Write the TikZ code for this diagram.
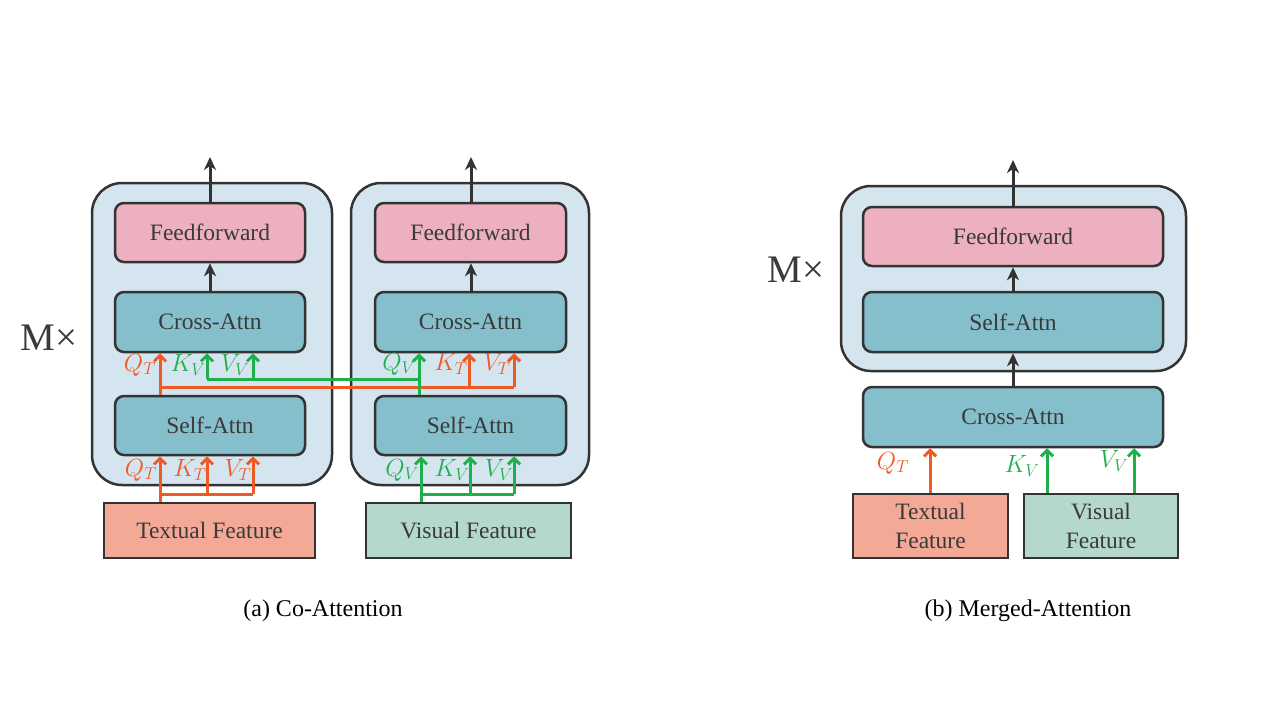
\documentclass[tikz,border=0pt]{standalone}
\usepackage{fontspec}
\setmainfont{Liberation Serif}
\usetikzlibrary{arrows.meta}
\definecolor{bdr}{HTML}{333333}
\definecolor{txt}{HTML}{3A3A3A}
\definecolor{outerc}{HTML}{D5E5EF}
\definecolor{ffc}{HTML}{ECB0C1}
\definecolor{attc}{HTML}{86BFCC}
\definecolor{tfc}{HTML}{F4A896}
\definecolor{vfc}{HTML}{B4D9CC}
\definecolor{orc}{HTML}{EE5A24}
\definecolor{grc}{HTML}{20B04B}
\tikzset{
  outerbox/.style={draw=bdr, fill=outerc, line width=2.5pt, rounded corners=30pt, inner sep=0pt},
  ffbox/.style={draw=bdr, fill=ffc, line width=2.5pt, rounded corners=9pt, text=txt, font=\fontsize{23.5}{28}\selectfont, inner sep=0pt},
  attbox/.style={ffbox, fill=attc},
  tfbox/.style={draw=bdr, fill=tfc, line width=2.5pt, text=txt, font=\fontsize{23.5}{29}\selectfont, align=center, inner sep=0pt},
  vfbox/.style={tfbox, fill=vfc},
  karr/.style={draw=bdr, line width=3pt, -{Stealth[length=13pt,width=12pt,inset=4pt]}},
  oarr/.style={draw=orc, line width=3pt, -{Straight Barb[length=6pt,width=12pt]}},
  garr/.style={draw=grc, line width=3pt, -{Straight Barb[length=6pt,width=12pt]}},
  oline/.style={draw=orc, line width=3pt},
  gline/.style={draw=grc, line width=3pt},
  olab/.style={text=orc, font=\fontsize{23.5}{27}\selectfont, inner sep=0pt},
  glab/.style={text=grc, font=\fontsize{23.5}{27}\selectfont, inner sep=0pt},
  mlab/.style={text=txt, font=\fontsize{39}{44}\selectfont, inner sep=0pt},
  caplab/.style={text=black, font=\fontsize{24}{28}\selectfont, inner sep=0pt}
}
\begin{document}
\begin{tikzpicture}[x=1pt, y=-1pt]
\useasboundingbox (0,0) rectangle (1280,720);
\fill[white] (0,0) rectangle (1280,720);

% ---------- (a) left column ----------
\node[outerbox, minimum width=240pt, minimum height=302pt] (oA1) at (212,334) {};
\node[ffbox, minimum width=190pt, minimum height=59pt] (ffA1) at (210,232.5) {Feedforward};
\node[attbox, minimum width=190pt, minimum height=60pt] (caA1) at (210,322) {Cross-Attn};
\node[attbox, minimum width=190pt, minimum height=59pt] (saA1) at (210,425.5) {Self-Attn};
\node[tfbox, minimum width=211pt, minimum height=55pt] (tf) at (209.5,530.5) {Textual Feature};

% ---------- (a) right column ----------
\node[outerbox, minimum width=238pt, minimum height=302pt] (oA2) at (470,334) {};
\node[ffbox, minimum width=191pt, minimum height=59pt] (ffA2) at (470.5,232.5) {Feedforward};
\node[attbox, minimum width=191pt, minimum height=60pt] (caA2) at (470.5,322) {Cross-Attn};
\node[attbox, minimum width=191pt, minimum height=59pt] (saA2) at (470.5,425.5) {Self-Attn};
\node[vfbox, minimum width=205pt, minimum height=55pt] (vf) at (468.5,530.5) {Visual Feature};

\node[mlab] (mA) at (49,338) {M×};

% black arrows (a)
\coordinate (outA1) at (210,157);
\coordinate (outA2) at (471,157);
\draw[karr] (ffA1.north) -- (outA1);
\draw[karr] (caA1.north) -- (ffA1.south);
\draw[karr] (ffA2.north -| outA2) -- (outA2);
\draw[karr] (caA2.north -| outA2) -- (ffA2.south -| outA2);

% bottom inputs left (textual)
\draw[oline] (160,494) -- (253,494);
\draw[oarr] (tf.north -| 160,0) -- (saA1.south -| 160,0);
\draw[oarr] (207,494) -- (saA1.south -| 207,0);
\draw[oarr] (253,494) -- (saA1.south -| 253,0);

% bottom inputs right (visual)
\draw[gline] (421,494) -- (514,494);
\draw[garr] (vf.north -| 421,0) -- (saA2.south -| 421,0);
\draw[garr] (470,494) -- (saA2.south -| 470,0);
\draw[garr] (514,494) -- (saA2.south -| 514,0);

% middle cross connections
\draw[oline] (160,387) -- (514,387);
\draw[oarr] (saA1.north -| 160,0) -- (caA1.south -| 160,0);
\draw[oarr] (469,387) -- (caA2.south -| 469,0);
\draw[oarr] (514,387) -- (caA2.south -| 514,0);
\draw[gline] (207,379) -- (419,379);
\draw[garr] (saA2.north -| 419,0) -- (caA2.south -| 419,0);
\draw[garr] (207,379) -- (caA1.south -| 207,0);
\draw[garr] (253,379) -- (caA1.south -| 253,0);

% labels (a)
\node[olab] (l1) at (140,365) {$Q_T$};
\node[glab] (l2) at (188,365) {$K_V$};
\node[glab] (l3) at (235,365) {$V_V$};
\node[glab] (l4) at (399,364) {$Q_V$};
\node[olab] (l5) at (451,364) {$K_T$};
\node[olab] (l6) at (497,364) {$V_T$};
\node[olab] (l7) at (141,470) {$Q_T$};
\node[olab] (l8) at (190,470) {$K_T$};
\node[olab] (l9) at (238,470) {$V_T$};
\node[glab] (l10) at (402,470) {$Q_V$};
\node[glab] (l11) at (452,470) {$K_V$};
\node[glab] (l12) at (499,470) {$V_V$};

\node[caplab] (capA) at (323,611) {(a) Co-Attention};

% ---------- (b) ----------
\node[outerbox, minimum width=345pt, minimum height=185pt] (oB) at (1013.5,278.5) {};
\node[ffbox, minimum width=300pt, minimum height=59pt] (ffB) at (1013,236.5) {Feedforward};
\node[attbox, minimum width=300pt, minimum height=60pt] (saB) at (1013,322) {Self-Attn};
\node[attbox, minimum width=300pt, minimum height=60pt] (caB) at (1013,417) {Cross-Attn};
\node[tfbox, minimum width=155pt, minimum height=64pt] (tfB) at (930.5,526) {Textual\\Feature};
\node[vfbox, minimum width=154pt, minimum height=64pt] (vfB) at (1101,526) {Visual\\Feature};

\node[mlab] (mB) at (796,270) {M×};

\coordinate (outB) at (1013,160);
\draw[karr] (ffB.north) -- (outB);
\draw[karr] (saB.north) -- (ffB.south);
\draw[karr] (caB.north) -- (saB.south);

\draw[oarr] (tfB.north -| 930,0) -- (caB.south -| 930,0);
\draw[garr] (vfB.north -| 1047,0) -- (caB.south -| 1047,0);
\draw[garr] (vfB.north -| 1134,0) -- (caB.south -| 1134,0);

\node[olab] (l13) at (893,463) {$Q_T$};
\node[glab] (l14) at (1022,466) {$K_V$};
\node[glab] (l15) at (1114,461) {$V_V$};

\node[caplab] (capB) at (1028,611) {(b) Merged-Attention};
\end{tikzpicture}
\end{document}
